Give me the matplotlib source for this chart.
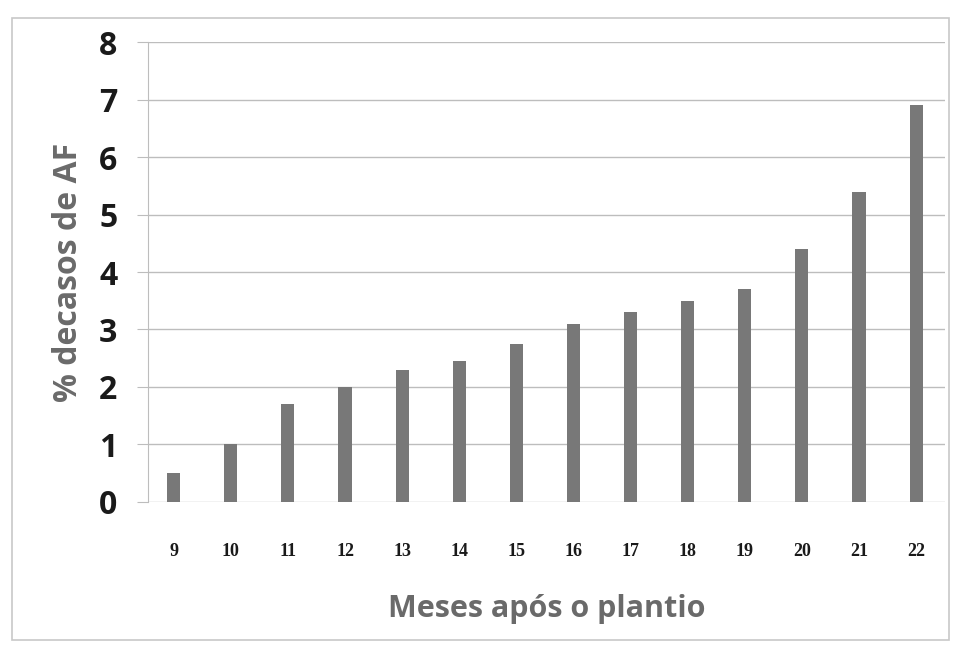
import numpy as np
import matplotlib.pyplot as plt
from matplotlib.patches import Rectangle

meses = ['9', '10', '11', '12', '13', '14', '15', '16', '17', '18', '19', '20', '21', '22']
casos_af = [0.5, 1.0, 1.7, 2.0, 2.3, 2.45, 2.75, 3.1, 3.3, 3.5, 3.7, 4.4, 5.4, 6.9]

fig = plt.figure(figsize=(9.61, 6.5), dpi=100)
ax = fig.add_axes([0.154, 0.228, 0.829, 0.707])

# moldura cinza em volta do grafico
fig.patches.append(Rectangle((0.012, 0.015), 0.976, 0.958, transform=fig.transFigure,
                             fill=False, edgecolor='#c8c8c8', linewidth=1.2))

x = np.arange(len(meses))
ax.bar(x, casos_af, width=0.23, color='#787878', zorder=3)

ax.set_xlim(-0.45, len(meses) - 0.5)
ax.set_ylim(0, 8)
ax.set_yticks(range(0, 9))
ax.yaxis.grid(True, color='#bdbdbd', linewidth=1.0, zorder=0)

for s in ['top', 'right', 'bottom']:
    ax.spines[s].set_visible(False)
ax.spines['left'].set_color('#bdbdbd')

ax.set_xticks(x)
ax.set_xticklabels(meses, fontfamily='Liberation Serif', fontweight='bold', fontsize=13, color='#1a1a1a')
ax.tick_params(axis='x', length=0, pad=30)
ax.tick_params(axis='y', length=8, color='#bdbdbd', pad=14, labelsize=23)
for lbl in ax.get_yticklabels():
    lbl.set_fontfamily('Open Sans')
    lbl.set_fontweight('bold')
    lbl.set_color('#1a1a1a')

ax.set_ylabel('% decasos de AF', fontfamily='Open Sans', fontweight='bold', fontsize=23,
              color='#6a6a6a', labelpad=10)
ax.set_xlabel('Meses após o plantio', fontfamily='Open Sans', fontweight='bold', fontsize=22,
              color='#6a6a6a', labelpad=24)

fig.savefig('out.png', dpi=100)
